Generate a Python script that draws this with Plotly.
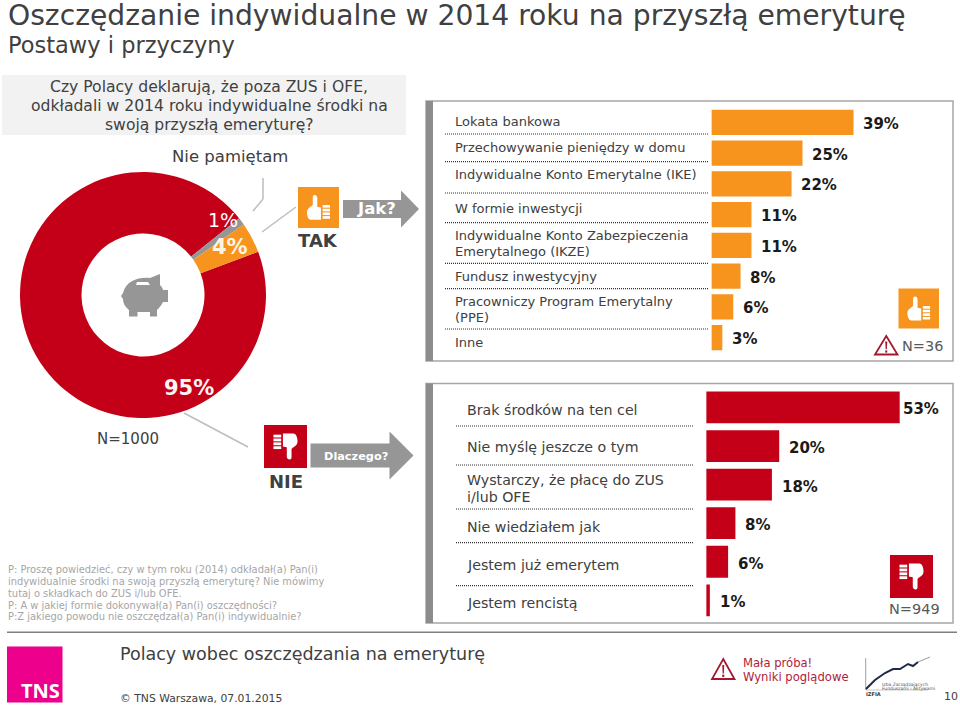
import plotly.graph_objects as go

W, H = 960, 706

# donut
donut_labels = ['NIE', 'Nie pamiętam', 'TAK']
donut_values = [95, 1, 4]

# Jak? (N=36)
how_labels = ['Lokata bankowa', 'Przechowywanie pieniędzy w domu', 'Indywidualne Konto Emerytalne (IKE)',
              'W formie inwestycji', 'Indywidualne Konto Zabezpieczenia<br>Emerytalnego (IKZE)',
              'Fundusz inwestycyjny', 'Pracowniczy Program Emerytalny<br>(PPE)', 'Inne']
how_values = [39, 25, 22, 11, 11, 8, 6, 3]

# Dlaczego? (N=949)
why_labels = ['Brak środków na ten cel', 'Nie myślę jeszcze o tym', 'Wystarczy, że płacę do ZUS<br>i/lub OFE',
              'Nie wiedziałem jak', 'Jestem już emerytem', 'Jestem rencistą']
why_values = [53, 20, 18, 8, 6, 1]

footnote_lines = ['P: Proszę powiedzieć, czy w tym roku (2014) odkładał(a) Pan(i)',
                  'indywidualnie środki na swoją przyszłą emeryturę? Nie mówimy',
                  'tutaj o składkach do ZUS i/lub OFE.',
                  'P: A w jakiej formie dokonywał(a) Pan(i) oszczędności?',
                  'P:Z jakiego powodu nie oszczędzał(a) Pan(i) indywidualnie?']

RED = '#c40018'
ORANGE = '#f7941e'
GREY = '#969696'
DARK = '#404040'
FONT = 'DejaVu Sans'


def px(x):
    return x / W


def py(y):
    return 1 - y / H


def path(points):
    # points in pixels, 'C' segments given as 3 points in a tuple
    out = ''
    for i, p in enumerate(points):
        if isinstance(p[0], tuple):
            out += 'C' + ' '.join(f'{px(a):.5f},{py(b):.5f}' for a, b in p)
        else:
            out += ('M' if i == 0 else 'L') + f'{px(p[0]):.5f},{py(p[1]):.5f}'
    return out + 'Z'


shapes = []
annotations = []


def text(x, y, s, size=12, color=DARK, bold=False, anchor='left', family=FONT, spacing=15):
    # each line is its own annotation so the line spacing can follow the reference
    lines = s.split('<br>')
    top = y - spacing * (len(lines) - 1) / 2
    for i, part in enumerate(lines):
        if bold:
            part = f'<b>{part}</b>'
        annotations.append(dict(x=px(x), y=py(top + i * spacing), xref='paper', yref='paper', text=part,
                                showarrow=False, xanchor=anchor, yanchor='middle', align=anchor,
                                borderpad=0, borderwidth=0, font=dict(family=family, size=size, color=color)))


def rect(x0, y0, x1, y1, fill, line=None, lw=0, layer='below'):
    shapes.append(dict(type='rect', xref='paper', yref='paper', x0=px(x0), x1=px(x1), y0=py(y0), y1=py(y1),
                       fillcolor=fill, line=dict(color=line or fill, width=lw), layer=layer))


def line(x0, y0, x1, y1, color='#bdbdbd', width=1.5, dash='solid'):
    shapes.append(dict(type='line', xref='paper', yref='paper', x0=px(x0), x1=px(x1), y0=py(y0), y1=py(y1),
                       line=dict(color=color, width=width, dash=dash), layer='below'))


def poly(points, fill, layer='above', stroke=None, lw=0):
    shapes.append(dict(type='path', xref='paper', yref='paper', path=path(points), fillcolor=fill,
                       line=dict(color=stroke or fill, width=lw), layer=layer))


def arrow(x0, x_head, x_tip, y_top, y_bot, head_top, head_bot):
    mid = (head_top + head_bot) / 2
    poly([(x0, y_top), (x_head, y_top), (x_head, head_top), (x_tip, mid), (x_head, head_bot),
          (x_head, y_bot), (x0, y_bot)], GREY)


def thumb(x0, y0, x1, y1, fill, down=False):
    # hand icon drawn in a 0..1 box, turned over for the "down" version
    rect(x0, y0, x1, y1, fill, layer='above')

    def t(u, v):
        if down:
            u, v = 1 - u, 1 - v
        return (x0 + u * (x1 - x0), y0 + v * (y1 - y0))

    poly([t(.22, .62), (t(.22, .52), t(.30, .50), t(.36, .44)), t(.36, .24),
          (t(.37, .18), t(.46, .18), t(.47, .26)), t(.47, .48), t(.56, .50), t(.56, .80), t(.32, .80),
          (t(.26, .80), t(.22, .72), t(.22, .62))], 'white')
    for v in [.44, .53, .62, .71]:
        poly([t(.60, v), t(.78, v), t(.78, v + .065), t(.60, v + .065)], 'white')


def warning(x0, y0, x1, y1):
    color = '#a5172f'
    xm = (x0 + x1) / 2
    poly([(xm, y0), (x1, y1), (x0, y1)], 'white', stroke=color, lw=1.8)
    h = y1 - y0
    poly([(xm - 1, y0 + .3 * h), (xm + 1, y0 + .3 * h), (xm + .6, y0 + .72 * h), (xm - .6, y0 + .72 * h)], color)
    rect(xm - 1, y0 + .78 * h, xm + 1, y0 + .9 * h, color, layer='above')


# titles
text(8, 16, 'Oszczędzanie indywidualne w 2014 roku na przyszłą emeryturę', size=28.2)
text(8, 45, 'Postawy i przyczyny', size=22.5)

# question box
rect(2, 75, 406, 135, '#f2f2f2')
text(209, 106, 'Czy Polacy deklarują, że poza ZUS i OFE,<br>odkładali w 2014 roku indywidualne środki na<br>'
     'swoją przyszłą emeryturę?', size=15.6, anchor='center', spacing=19)

# donut labels and connectors
text(230, 156, 'Nie pamiętam', size=16.5, anchor='center')
line(263, 178, 263, 199)
line(263, 199, 253, 211)
line(296, 207, 262, 232)
line(184, 413, 248, 447)
text(222.5, 220, '1%', size=19, color='white', anchor='center')
text(230, 247, '4%', size=21, color='#fff4e0', bold=True, anchor='center')
text(189, 388, '95%', size=21, color='#fff4f4', bold=True, anchor='center')
text(128, 439, 'N=1000', size=15, anchor='center')

# piggy bank
poly([(121, 296), (123, 293), ((126, 281), (138, 277), (150, 278)), (160, 274), (160, 285),
      ((162, 287), (163, 289), (163, 290)), (168, 290), (168, 302), (163, 302),
      ((161, 306), (159, 308), (157, 310)), (157, 316.5), (150, 316.5), (150, 312), (137.5, 312),
      (137.5, 316.5), (129, 316.5), (129, 310), ((125, 307), (123, 303), (123, 299))], GREY)
poly([(137, 282), (148, 282), (150, 285), (136, 285)], 'white')

# TAK / NIE
thumb(298, 187, 339, 228, ORANGE)
text(318, 241, 'TAK', size=18, bold=True, anchor='center')
arrow(343, 401, 419, 200, 218, 190.5, 227.5)
text(376, 209, 'Jak?', size=16.5, color='white', bold=True, anchor='center')

thumb(264, 425, 307, 468, RED, down=True)
text(285.5, 481, 'NIE', size=18, bold=True, anchor='center')
arrow(310.5, 389.5, 413.5, 443.5, 467.5, 431.5, 479.5)
text(356, 456, 'Dlaczego?', size=11.3, color='white', bold=True, anchor='center')

# footnote
for y, s in zip([569, 581, 593, 605, 616.5], footnote_lines):
    text(8, y, s, size=9.9, color='#a6a6a6')

# frames of the two bar panels
rect(426, 101, 953, 361, 'white', line='#a6a6a6', lw=1.5)
rect(426, 101, 433, 361, '#8c8c8c')
rect(426, 383.5, 953, 623, 'white', line='#a6a6a6', lw=1.5)
rect(426, 383.5, 433, 623, '#8c8c8c')

# panel 1 labels and dotted rules
how_label_y = [121.5, 147, 174.5, 208, 243.5, 276, 309.5, 342]
for y, s in zip(how_label_y, how_labels):
    text(455, y, s, size=13, spacing=15.3)
for y in [134, 161.7, 193, 222.7, 263.3, 288.7, 329]:
    line(445, y, 708.5, y, color='#333333', width=1.2, dash='1px,1px')

# panel 2 labels and dotted rules
why_label_y = [410, 446.5, 488, 527, 565, 603]
for y, s in zip(why_label_y, why_labels):
    text(466.5, y, s, size=14.2, spacing=17)
for y in [426, 465, 509, 542.7, 585.7]:
    line(456, y, 693, y, color='#333333', width=1.2, dash='1px,1px')

# panel icons
thumb(898.5, 288.5, 939, 328.5, ORANGE)
warning(875, 336, 897.5, 354.5)
text(922.5, 346.5, 'N=36', size=14.5, color='#595959', anchor='center')
thumb(890, 555, 933, 598, RED, down=True)
text(914.5, 608.5, 'N=949', size=14.5, color='#595959', anchor='center')

# footer
line(7, 632.3, 957, 632.3, color='#808080', width=1.5)
rect(7, 646.5, 62.5, 702.5, '#ec008c')
text(40, 690, 'TNS', size=20, color='white', bold=True, anchor='center', family='Open Sans')
text(119.5, 654, 'Polacy wobec oszczędzania na emeryturę', size=17.5)
text(119.5, 698, '© TNS Warszawa, 07.01.2015', size=10.8)
warning(712, 659, 734.5, 679)
text(743, 670, 'Mała próba!<br>Wyniki poglądowe', size=11.6, color='#b01c3c', spacing=14)
text(958, 696, '10', size=11, anchor='right')

# IZFiA logo
line(865.7, 658, 865.7, 690, color='#a0a0a0', width=1)
line(865.7, 690, 928, 690, color='#c8c8c8', width=1)
shapes.append(dict(type='path', xref='paper', yref='paper', layer='above', line=dict(color='#1f2a44', width=2),
                   path=path([(866, 689), (875, 680), (885, 673), (893, 669), (900, 669), (908, 664), (913, 666),
                              (918, 662)]).rstrip('Z')))
line(918, 662, 930, 657, color='#9a9a9a', width=1)
text(881.5, 684, 'Izba Zarządzających', size=4.5, color='#555555')
text(881.5, 688.5, 'Funduszami i Aktywami', size=4.5, color='#555555')
text(866, 694, 'IZFIA', size=5, color='#333333', bold=True)

fig = go.Figure()

fig.add_trace(go.Pie(labels=donut_labels, values=donut_values, hole=0.5, sort=False, direction='clockwise',
                     rotation=69.4, textinfo='none', showlegend=False,
                     marker=dict(colors=[RED, GREY, ORANGE], line=dict(width=0)),
                     domain=dict(x=[px(20), px(266)], y=[py(418), py(172)])))

fig.add_trace(go.Bar(x=how_values, y=how_labels, orientation='h', marker=dict(color=ORANGE, line=dict(width=0)),
                     xaxis='x', yaxis='y', showlegend=False))
fig.add_trace(go.Bar(x=why_values, y=why_labels, orientation='h', marker=dict(color=RED, line=dict(width=0)),
                     xaxis='x2', yaxis='y2', showlegend=False))

# value labels next to the bars
for v, c in zip(how_values, how_labels):
    annotations.append(dict(x=v, y=c, xref='x', yref='y', text=f'<b>{v}%</b>', showarrow=False, xanchor='left',
                            xshift=8.5, yshift=-1.5, borderpad=0, font=dict(family=FONT, size=15, color='#1a1a1a')))
for v, c in zip(why_values, why_labels):
    annotations.append(dict(x=v, y=c, xref='x2', yref='y2', text=f'<b>{v}%</b>', showarrow=False, xanchor='left',
                            xshift=2 if v == 53 else 9, yshift=-2, borderpad=0,
                            font=dict(family=FONT, size=15, color='#1a1a1a')))

axis_off = dict(visible=False, fixedrange=True)
fig.update_layout(
    width=W, height=H, margin=dict(l=0, r=0, t=0, b=0),
    paper_bgcolor='white', plot_bgcolor='rgba(0,0,0,0)',
    bargap=0.176, barmode='overlay', showlegend=False,
    font=dict(family=FONT),
    shapes=shapes, annotations=annotations,
    xaxis=dict(domain=[px(711.4), px(953)], range=[0, 66.3], anchor='y', **axis_off),
    yaxis=dict(domain=[py(352.9), py(107.1)], range=[7.5, -0.5], anchor='x', **axis_off),
    xaxis2=dict(domain=[px(706.2), px(953)], range=[0, 67.6], anchor='y2', **axis_off),
    yaxis2=dict(domain=[py(619.6), py(388.2)], range=[5.5, -0.5], anchor='x2', **axis_off),
)

fig.write_html("out.html", config={'displayModeBar': False},
               post_script="document.body.style.margin='0';")
